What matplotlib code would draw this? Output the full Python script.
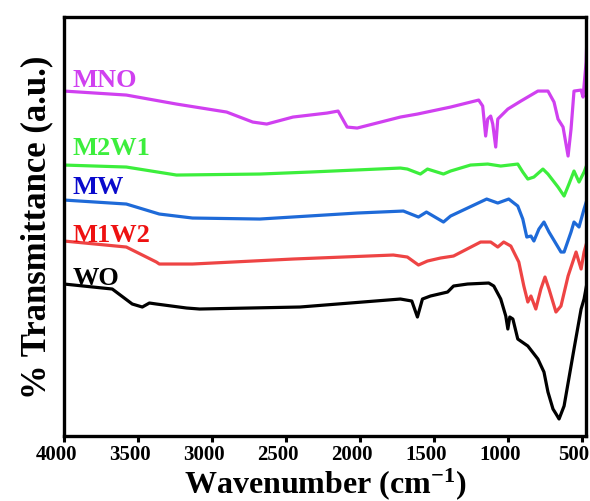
import matplotlib
matplotlib.use("Agg")
import matplotlib.pyplot as plt
import matplotlib.transforms as mtransforms

# FTIR spectra, wavenumber (cm-1) vs transmittance (a.u., offset)
wo_x = [4000, 3674, 3620, 3539, 3471, 3423, 3376, 3172, 3084, 2406, 1727, 1650, 1612,
        1578, 1524, 1408, 1368, 1273, 1130, 1096, 1049, 1015, 1001, 988, 967, 934, 866,
        798, 757, 730, 696, 675, 655, 621, 554, 506, 486, 465]
wo_y = [152, 147, 141, 132, 129, 133, 132, 128, 127, 129, 137, 135, 119,
        137, 140, 144, 150, 152, 153, 150, 137, 120, 107, 119, 117, 97, 90,
        77, 64, 44, 27, 22, 17, 30, 87, 127, 137, 154]

m1w2_x = [4000, 3579, 3376, 3356, 3132, 2453, 1775, 1680, 1605, 1544, 1456, 1368, 1185,
          1117, 1069, 1029, 981, 927, 893, 866, 845, 812, 778, 750, 723, 676, 642, 594,
          540, 506, 486, 465]
m1w2_y = [195, 189, 174, 172, 172, 177, 181, 179, 171, 175, 178, 180, 194,
          194, 189, 194, 190, 174, 150, 134, 140, 127, 147, 159, 147, 124, 130, 160,
          184, 167, 184, 195]

mw_x = [4000, 3579, 3356, 3132, 2677, 2019, 1707, 1605, 1551, 1436, 1388, 1144, 1069,
        995, 934, 900, 873, 845, 825, 791, 757, 723, 642, 621, 574, 554, 520, 486, 465]
mw_y = [236, 232, 222, 218, 217, 223, 225, 219, 224, 214, 220, 237, 233,
        237, 230, 217, 199, 200, 195, 207, 214, 204, 184, 184, 204, 214, 209, 227, 237]

m2w1_x = [4000, 3579, 3240, 2677, 2338, 1727, 1680, 1592, 1544, 1436, 1388, 1253, 1137,
          1049, 934, 900, 866, 825, 764, 730, 662, 621, 588, 554, 520, 486, 465]
m2w1_y = [271, 269, 261, 262, 264, 268, 267, 262, 267, 262, 265, 271, 272,
          270, 272, 264, 257, 259, 267, 262, 249, 240, 252, 265, 254, 264, 272]

mno_x = [4000, 3579, 3240, 2901, 2725, 2630, 2453, 2223, 2148, 2087, 2019, 1727, 1612,
         1388, 1198, 1171, 1151, 1137, 1117, 1103, 1083, 1069, 1001, 913, 798, 730, 689,
         662, 628, 594, 574, 554, 506, 493, 472, 465]
mno_y = [345, 341, 332, 324, 314, 312, 319, 323, 325, 309, 308, 319, 322,
         329, 336, 330, 300, 317, 320, 312, 289, 317, 327, 335, 345, 345, 334,
         317, 309, 280, 307, 345, 346, 339, 374, 407]

series = [
    ("WO", wo_x, wo_y, "#000000", "#000000", 152),
    ("M1W2", m1w2_x, m1w2_y, "#EE4444", "#EE1111", 195),
    ("MW", mw_x, mw_y, "#1E6AD8", "#0A0ACC", 243),
    ("M2W1", m2w1_x, m2w1_y, "#3CEE3C", "#3CEE3C", 282),
    ("MNO", mno_x, mno_y, "#D040F0", "#D040F0", 350),
]

plt.rcParams["font.family"] = ["Liberation Serif", "DejaVu Serif"]
plt.rcParams["font.weight"] = "bold"
plt.rcParams["mathtext.fontset"] = "custom"
plt.rcParams["mathtext.rm"] = "Liberation Serif:bold"
plt.rcParams["mathtext.bf"] = "Liberation Serif:bold"
plt.rcParams["mathtext.default"] = "bf"

fig = plt.figure(figsize=(5.9, 5.02), dpi=100)
ax = fig.add_axes([0.1085, 0.1295, 0.8847, 0.8345])

for name, xs, ys, lc, tc, label_y in series:
    ax.plot(xs, ys, color=lc, linewidth=2.3, solid_joinstyle="round")
    ax.text(3940, label_y, name, color=tc, fontsize=19, fontweight="bold",
            ha="left", va="baseline")

ax.set_xlim(4000, 473)
ax.set_ylim(0, 419)
ax.set_xticks([4000, 3500, 3000, 2500, 2000, 1500, 1000, 500])
ax.set_yticks([])
ax.tick_params(axis="x", direction="out", length=4, width=2.2, labelsize=15, pad=2)
for lab in ax.get_xticklabels():
    lab.set_fontweight("bold")
    lab.set_transform(lab.get_transform()
                      + mtransforms.ScaledTranslation(-0.08, 0, fig.dpi_scale_trans))
for sp in ax.spines.values():
    sp.set_linewidth(2.4)

ax.set_xlabel("Wavenumber (cm$^{-1}$)", fontsize=23, fontweight="bold", labelpad=1)
ax.set_ylabel("% Transmittance (a.u.)", fontsize=25, fontweight="bold", labelpad=8)

fig.savefig("out.png", dpi=100)
